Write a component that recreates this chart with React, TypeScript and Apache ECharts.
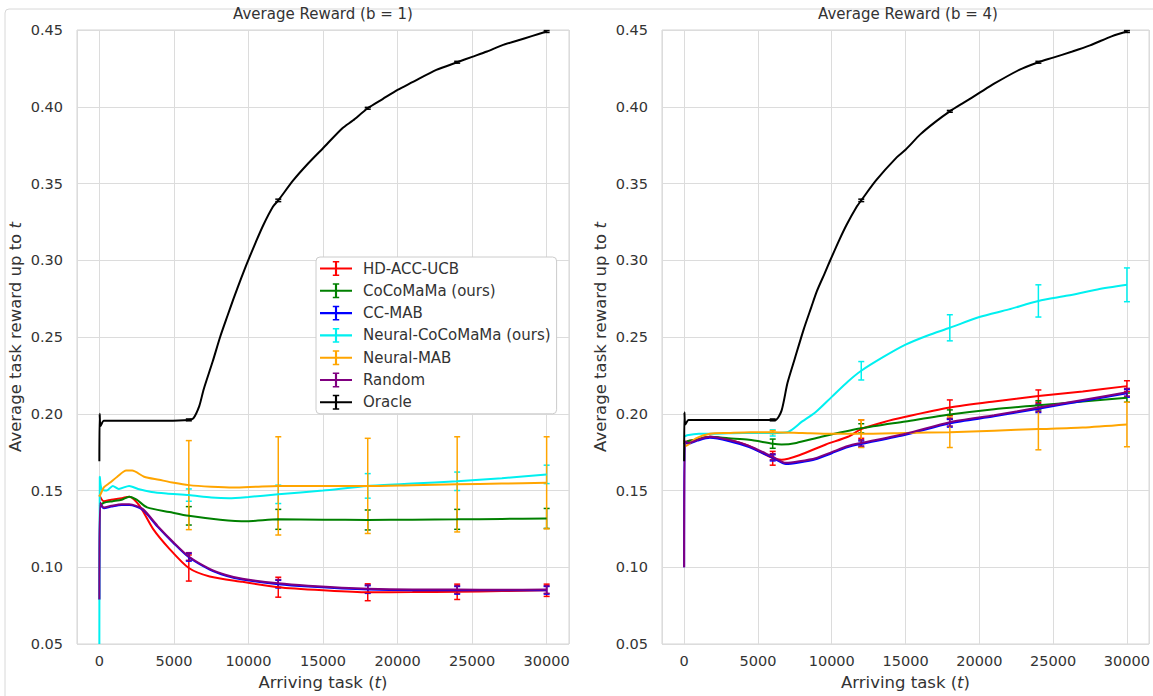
import React, { useEffect, useRef } from "react";
import * as echarts from "echarts";

// Time steps carrying error bars
const ERR_T = [6000, 12000, 18000, 24000, 30000];

// ---------- Average reward, b = 1 ----------
const hdAccUcbB1 = [[0, 0.147], [300, 0.143], [800, 0.144], [1500, 0.145], [2000, 0.146], [2700, 0.14], [3600, 0.125], [4700, 0.112], [6000, 0.0995], [7400, 0.094], [9600, 0.0905], [12000, 0.087], [15000, 0.085], [18000, 0.0837], [21000, 0.0838], [24000, 0.084], [27000, 0.0845], [30000, 0.085]];
const hdAccUcbErrB1 = [0.0085, 0.0065, 0.0055, 0.005, 0.004];

const cocomamaB1 = [[0, 0.14], [300, 0.142], [900, 0.143], [1500, 0.144], [2000, 0.146], [2500, 0.144], [3200, 0.139], [4700, 0.136], [6000, 0.1335], [8100, 0.131], [9900, 0.13], [12000, 0.1312], [15000, 0.131], [18000, 0.1308], [21000, 0.131], [24000, 0.1312], [27000, 0.1315], [30000, 0.1318]];
const cocomamaErrB1 = [0.006, 0.0065, 0.0065, 0.0065, 0.0065];

const ccMabB1 = [[0, 0.079], [60, 0.141], [300, 0.1385], [800, 0.1395], [1500, 0.1405], [2000, 0.1405], [2900, 0.1375], [3900, 0.1265], [5000, 0.1155], [6000, 0.1065], [7400, 0.0985], [8500, 0.0945], [9600, 0.092], [12000, 0.089], [14000, 0.0875], [18000, 0.0855], [21000, 0.085], [24000, 0.085], [27000, 0.085], [30000, 0.085]];
const ccMabErrB1 = [0.0025, 0.0025, 0.0025, 0.0025, 0.0025];

const neuralCocomamaB1 = [[0, 0.05], [30, 0.159], [150, 0.151], [500, 0.15], [900, 0.153], [1300, 0.151], [2000, 0.153], [2600, 0.151], [3500, 0.149], [4500, 0.148], [6000, 0.147], [7500, 0.1455], [8700, 0.145], [10000, 0.1458], [12000, 0.1475], [15000, 0.15], [18000, 0.153], [21000, 0.1545], [24000, 0.156], [27000, 0.158], [30000, 0.1605]];
const neuralCocomamaErrB1 = [0.004, 0.006, 0.008, 0.006, 0.006];

const neuralMabB1 = [[0, 0.146], [100, 0.148], [300, 0.152], [700, 0.155], [1200, 0.159], [1800, 0.163], [2200, 0.163], [3000, 0.159], [4000, 0.157], [5000, 0.155], [6000, 0.1535], [7500, 0.1525], [9000, 0.152], [10500, 0.1525], [12000, 0.153], [15000, 0.153], [18000, 0.153], [21000, 0.1535], [24000, 0.154], [27000, 0.1545], [30000, 0.155]];
const neuralMabErrB1 = [0.029, 0.032, 0.031, 0.031, 0.03];

const randomB1 = [[0, 0.079], [60, 0.142], [300, 0.139], [800, 0.14], [1500, 0.141], [2000, 0.141], [2900, 0.138], [3900, 0.127], [5000, 0.116], [6000, 0.107], [7400, 0.099], [8500, 0.095], [9600, 0.0925], [12000, 0.0895], [14000, 0.088], [18000, 0.086], [21000, 0.0855], [24000, 0.0855], [27000, 0.0853], [30000, 0.0855]];
const randomErrB1 = [0.0025, 0.0025, 0.0025, 0.0025, 0.0025];

const oracleB1 = [[0, 0.169], [20, 0.2], [80, 0.192], [300, 0.1955], [1500, 0.1955], [3000, 0.1955], [4500, 0.1955], [6000, 0.196], [6300, 0.197], [6700, 0.205], [7000, 0.216], [7600, 0.234], [8100, 0.25], [8600, 0.264], [9000, 0.275], [9500, 0.288], [9900, 0.298], [10500, 0.312], [11000, 0.323], [11650, 0.335], [12000, 0.339], [13000, 0.352], [14000, 0.363], [15000, 0.373], [16300, 0.386], [17000, 0.391], [18000, 0.399], [19000, 0.405], [20000, 0.411], [21000, 0.416], [22600, 0.424], [24000, 0.429], [25000, 0.4325], [26000, 0.436], [27000, 0.44], [28000, 0.443], [29000, 0.446], [30000, 0.449]];
const oracleErrB1 = [0.0006, 0.0008, 0.0006, 0.0006, 0.0006];

// ---------- Average reward, b = 4 ----------
const hdAccUcbB4 = [[0, 0.18], [200, 0.182], [800, 0.183], [1750, 0.185], [3000, 0.183], [4400, 0.179], [6000, 0.171], [6600, 0.17], [7800, 0.173], [9600, 0.18], [11100, 0.185], [12000, 0.19], [13500, 0.1945], [15000, 0.198], [18000, 0.204], [21000, 0.208], [24000, 0.2115], [27000, 0.2145], [30000, 0.218]];
const hdAccUcbErrB4 = [0.0045, 0.006, 0.005, 0.004, 0.0035];

const cocomamaB4 = [[0, 0.18], [200, 0.182], [800, 0.183], [1750, 0.185], [3000, 0.184], [4400, 0.183], [6000, 0.1805], [6600, 0.18], [7600, 0.181], [9300, 0.185], [12000, 0.1905], [15000, 0.195], [18000, 0.1995], [21000, 0.203], [24000, 0.2055], [27000, 0.208], [30000, 0.2105]];
const cocomamaErrB4 = [0.003, 0.003, 0.003, 0.003, 0.003];

const ccMabB4 = [[0, 0.1], [40, 0.181], [300, 0.1805], [900, 0.1825], [1750, 0.1843], [3000, 0.1823], [4400, 0.1783], [6000, 0.1713], [6900, 0.1673], [7800, 0.1683], [8900, 0.1703], [10000, 0.1743], [11100, 0.1783], [12000, 0.1803], [15000, 0.1863], [18000, 0.1938], [21000, 0.1983], [24000, 0.2033], [27000, 0.2083], [30000, 0.2133]];
const ccMabErrB4 = [0.002, 0.002, 0.0025, 0.0025, 0.0025];

const neuralCocomamaB4 = [[0, 0.185], [200, 0.186], [1000, 0.187], [2000, 0.187], [4000, 0.1875], [6000, 0.1875], [7000, 0.188], [8000, 0.195], [8900, 0.201], [10000, 0.211], [11100, 0.221], [12000, 0.228], [13500, 0.237], [15000, 0.245], [16500, 0.251], [18000, 0.256], [20000, 0.263], [22000, 0.268], [24000, 0.2735], [26000, 0.277], [28000, 0.281], [30000, 0.284]];
const neuralCocomamaErrB4 = [0.002, 0.006, 0.0085, 0.0105, 0.011];

const neuralMabB4 = [[0, 0.183], [100, 0.179], [300, 0.18], [800, 0.184], [1750, 0.187], [3000, 0.1875], [4500, 0.188], [6000, 0.188], [8000, 0.1875], [10000, 0.187], [12000, 0.187], [15000, 0.1875], [18000, 0.188], [21000, 0.189], [24000, 0.19], [27000, 0.191], [30000, 0.193]];
const neuralMabErrB4 = [0.001, 0.009, 0.01, 0.0135, 0.0145];

const randomB4 = [[0, 0.1], [40, 0.182], [300, 0.181], [900, 0.183], [1750, 0.185], [3000, 0.183], [4400, 0.179], [6000, 0.172], [6900, 0.168], [7800, 0.169], [8900, 0.171], [10000, 0.175], [11100, 0.179], [12000, 0.181], [15000, 0.187], [18000, 0.1945], [21000, 0.199], [24000, 0.204], [27000, 0.209], [30000, 0.214]];
const randomErrB4 = [0.002, 0.002, 0.0025, 0.0025, 0.0025];

const oracleB4 = [[0, 0.169], [20, 0.201], [80, 0.193], [300, 0.196], [1500, 0.196], [3000, 0.196], [4500, 0.196], [6000, 0.196], [6200, 0.196], [6600, 0.202], [7000, 0.22], [7500, 0.236], [8100, 0.255], [8600, 0.269], [9000, 0.28], [9500, 0.291], [9900, 0.3], [10500, 0.313], [11000, 0.323], [11700, 0.335], [12000, 0.339], [13000, 0.352], [14400, 0.367], [15000, 0.372], [16000, 0.382], [17000, 0.39], [18000, 0.397], [19000, 0.403], [20000, 0.409], [21000, 0.415], [22700, 0.424], [24000, 0.429], [25000, 0.432], [26300, 0.436], [27500, 0.44], [29000, 0.446], [30000, 0.449]];
const oracleErrB4 = [0.0006, 0.0008, 0.0006, 0.0006, 0.0006];

const methodNames = ["HD-ACC-UCB", "CoCoMaMa (ours)", "CC-MAB", "Neural-CoCoMaMa (ours)", "Neural-MAB", "Random", "Oracle"];
const methodColors = ["#ff0000", "#008000", "#0000ff", "#00f0f0", "#ffa500", "#800080", "#000000"];
const panelTitles = ["Average Reward (b = 1)", "Average Reward (b = 4)"];
const yTicks = [0.05, 0.1, 0.15, 0.2, 0.25, 0.3, 0.35, 0.4, 0.45];

const linesB1 = [hdAccUcbB1, cocomamaB1, ccMabB1, neuralCocomamaB1, neuralMabB1, randomB1, oracleB1];
const errsB1 = [hdAccUcbErrB1, cocomamaErrB1, ccMabErrB1, neuralCocomamaErrB1, neuralMabErrB1, randomErrB1, oracleErrB1];
const linesB4 = [hdAccUcbB4, cocomamaB4, ccMabB4, neuralCocomamaB4, neuralMabB4, randomB4, oracleB4];
const errsB4 = [hdAccUcbErrB4, cocomamaErrB4, ccMabErrB4, neuralCocomamaErrB4, neuralMabErrB4, randomErrB4, oracleErrB4];

const FONT = "DejaVu Sans";
const TEXT = "#333333";
const GRID_LEFT = [77, 662];
const GRID_TOP = 30;
const GRID_W = 492;
const GRID_H = 615;

function valueAt(line: number[][], t: number): number {
  const p = line.find((d) => d[0] === t);
  return p ? p[1] : NaN;
}

function errorBarSeries(name: string, color: string, line: number[][], errs: number[], idx: number) {
  return {
    type: "custom",
    name,
    xAxisIndex: idx,
    yAxisIndex: idx,
    silent: true,
    data: ERR_T.map((t, i) => {
      const v = valueAt(line, t);
      return [t, v - errs[i], v + errs[i]];
    }),
    encode: { x: 0, y: [1, 2] },
    renderItem: (_params: any, api: any) => {
      const x = api.value(0);
      const lo = api.coord([x, api.value(1)]);
      const hi = api.coord([x, api.value(2)]);
      const cap = 3;
      const style = { stroke: color, lineWidth: 1.5 };
      return {
        type: "group",
        children: [
          { type: "line", shape: { x1: lo[0], y1: lo[1], x2: hi[0], y2: hi[1] }, style },
          { type: "line", shape: { x1: lo[0] - cap, y1: lo[1], x2: lo[0] + cap, y2: lo[1] }, style },
          { type: "line", shape: { x1: hi[0] - cap, y1: hi[1], x2: hi[0] + cap, y2: hi[1] }, style },
        ],
      };
    },
  };
}

function buildOption() {
  const grids = GRID_LEFT.map((left) => ({
    left,
    top: GRID_TOP,
    width: GRID_W,
    height: GRID_H,
    show: true,
    backgroundColor: "#ffffff",
    borderColor: "#d4d4d4",
    borderWidth: 1,
  }));

  const italicRich = { i: { fontStyle: "italic", fontFamily: FONT, fontSize: 16.5, color: TEXT } };

  const xAxes = [0, 1].map((g) => ({
    type: "value",
    gridIndex: g,
    min: -1500,
    max: 31500,
    splitNumber: 7,
    name: "Arriving task ({i|t})",
    nameLocation: "middle",
    nameGap: 30,
    nameTextStyle: { fontFamily: FONT, fontSize: 16.5, color: TEXT, rich: italicRich },
    axisLine: { show: false },
    axisTick: { show: false },
    axisLabel: {
      fontFamily: FONT,
      fontSize: 14.5,
      color: TEXT,
      margin: 9,
      showMinLabel: false,
      showMaxLabel: false,
      formatter: (v: number) => String(Math.round(v)),
    },
    splitLine: { show: true, lineStyle: { color: "#dcdcdc", width: 1 } },
  }));

  const yAxes = [0, 1].map((g) => ({
    type: "value",
    gridIndex: g,
    min: yTicks[0],
    max: yTicks[yTicks.length - 1],
    interval: 0.05,
    name: "Average task reward up to {i|t}",
    nameLocation: "middle",
    nameRotate: 90,
    nameGap: 53,
    nameTextStyle: { fontFamily: FONT, fontSize: 16.5, color: TEXT, rich: italicRich },
    axisLine: { show: false },
    axisTick: { show: false },
    axisLabel: {
      fontFamily: FONT,
      fontSize: 14.5,
      color: TEXT,
      margin: 14,
      formatter: (v: number) => v.toFixed(2),
    },
    splitLine: { show: true, lineStyle: { color: "#dcdcdc", width: 1 } },
  }));

  const series: any[] = [];
  [linesB1, linesB4].forEach((lines, g) => {
    const errs = g === 0 ? errsB1 : errsB4;
    methodNames.forEach((name, m) => {
      series.push({
        type: "line",
        name,
        xAxisIndex: g,
        yAxisIndex: g,
        data: lines[m],
        showSymbol: false,
        symbol: "none",
        smooth: 0.25,
        silent: true,
        lineStyle: { color: methodColors[m], width: 2 },
        itemStyle: { color: methodColors[m] },
      });
      series.push(errorBarSeries(name, methodColors[m], lines[m], errs[m], g));
    });
  });

  const errIcon = "path://M0,6h30v2h-30z M14,0h2v14h-2z M12,0h6v1.4h-6z M12,12.6h6v1.4h-6z";

  return {
    animation: false,
    backgroundColor: "#ffffff",
    title: panelTitles.map((text, g) => ({
      text,
      left: GRID_LEFT[g] + GRID_W / 2,
      top: 6,
      textAlign: "center",
      padding: 0,
      textStyle: { fontFamily: FONT, fontSize: 15, fontWeight: "normal", color: TEXT },
    })),
    legend: {
      orient: "vertical",
      left: 316,
      top: 257,
      padding: [4, 6, 4, 4],
      itemGap: 7.3,
      itemWidth: 32,
      itemHeight: 15,
      selectedMode: false,
      backgroundColor: "#ffffff",
      borderColor: "#cccccc",
      borderWidth: 1,
      borderRadius: 4,
      textStyle: { fontFamily: FONT, fontSize: 15, color: TEXT, padding: [0, 0, 0, 6] },
      data: methodNames.map((name, m) => ({
        name,
        icon: errIcon,
        itemStyle: { color: methodColors[m] },
      })),
    },
    graphic: [
      {
        type: "rect",
        shape: { x: 5, y: 9, width: 1200, height: 800, r: 4 },
        style: { fill: "none", stroke: "#d8d8d8", lineWidth: 1 },
        silent: true,
        z: -10,
      },
    ],
    grid: grids,
    xAxis: xAxes,
    yAxis: yAxes,
    series,
  };
}

export default function App() {
  const ref = useRef<HTMLDivElement>(null);
  useEffect(() => {
    if (!ref.current) return;
    const chart = echarts.init(ref.current, undefined, { renderer: "svg" });
    chart.setOption(buildOption() as any);
    return () => chart.dispose();
  }, []);
  return (
    <div
      ref={ref}
      style={{ position: "fixed", left: 0, top: 0, width: 1153, height: 696, background: "#ffffff" }}
    />
  );
}
